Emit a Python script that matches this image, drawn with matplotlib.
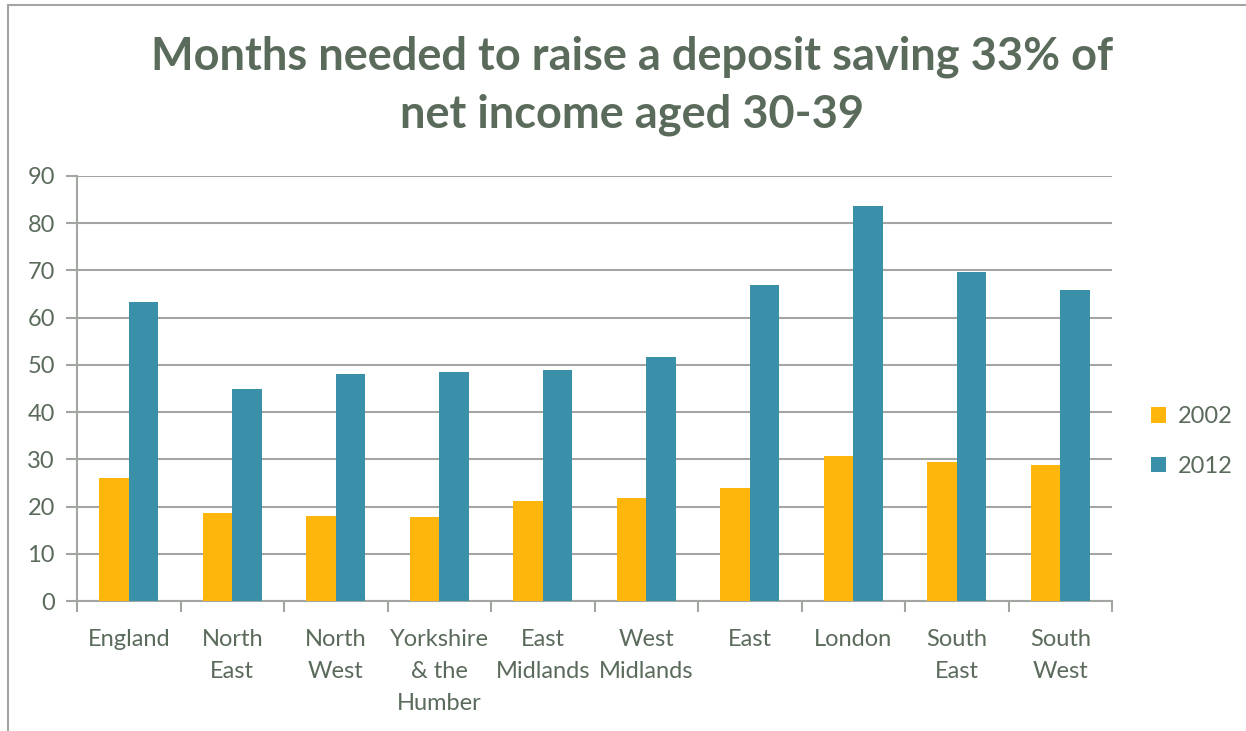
import matplotlib.pyplot as plt
import numpy as np
from matplotlib.lines import Line2D

regions = ['England', 'North\nEast', 'North\nWest', 'Yorkshire\n& the\nHumber',
           'East\nMidlands', 'West\nMidlands', 'East', 'London', 'South\nEast', 'South\nWest']
y2002 = [26.0, 18.6, 18.1, 17.7, 21.1, 21.8, 23.9, 30.7, 29.5, 28.8]
y2012 = [63.3, 45.0, 48.1, 48.6, 48.9, 51.7, 67.0, 83.6, 69.7, 65.9]
yticks = np.arange(0, 91, 10)

TXT = '#5B6B5B'
GRID = '#A2A6A0'
YELLOW = '#FEB50C'
TEAL = '#3990A8'

plt.rcParams['font.family'] = ['Lato', 'DejaVu Sans']

fig = plt.figure(figsize=(12.46, 7.31), dpi=100)
ax = fig.add_axes([77 / 1246, 1 - 601 / 731, (1112 - 77) / 1246, (601 - 176) / 731])

x = np.arange(len(regions))
w = 1 / 3.5
ax.bar(x - w / 2, y2002, w, color=YELLOW, label='2002', zorder=3)
ax.bar(x + w / 2, y2012, w, color=TEAL, label='2012', zorder=3)

ax.set_xlim(-0.5, len(regions) - 0.5)
ax.set_ylim(0, 90)
ax.set_yticks(yticks)
ax.set_yticklabels([str(t) for t in yticks])
ax.yaxis.grid(True, color=GRID, linewidth=1.5, zorder=0)
ax.tick_params(axis='y', colors=GRID, labelcolor=TXT, labelsize=17, length=8, width=1.5, pad=8)

ax.set_xticks(x)
ax.set_xticklabels(regions, linespacing=1.65)
ax.tick_params(axis='x', which='major', length=0, labelsize=17, labelcolor=TXT, pad=20)
ax.set_xticks(np.arange(-0.5, len(regions)), minor=True)
ax.tick_params(axis='x', which='minor', length=8, width=1.5, colors=GRID)

for s in ['top', 'right']:
    ax.spines[s].set_visible(False)
for s in ['left', 'bottom']:
    ax.spines[s].set_color(GRID)
    ax.spines[s].set_linewidth(1.5)

fig.text(632 / 1246, 1 - 86 / 731, 'Months needed to raise a deposit saving 33% of\nnet income aged 30-39',
         ha='center', va='center', fontsize=32.5, fontweight='bold', color=TXT, linespacing=1.45)

ax.legend(loc='center left', bbox_to_anchor=(1.017, 0.375), frameon=False, fontsize=17,
          labelcolor=TXT, handlelength=0.65, handleheight=0.65, handletextpad=0.5, labelspacing=1.2)

# outer chart border (top and left)
fig.add_artist(Line2D([8 / 1246, 8 / 1246], [0, 1 - 5 / 731], transform=fig.transFigure, color=GRID, lw=1.5))
fig.add_artist(Line2D([8 / 1246, 1], [1 - 5 / 731, 1 - 5 / 731], transform=fig.transFigure, color=GRID, lw=1.5))

fig.savefig('out.png', dpi=100)
